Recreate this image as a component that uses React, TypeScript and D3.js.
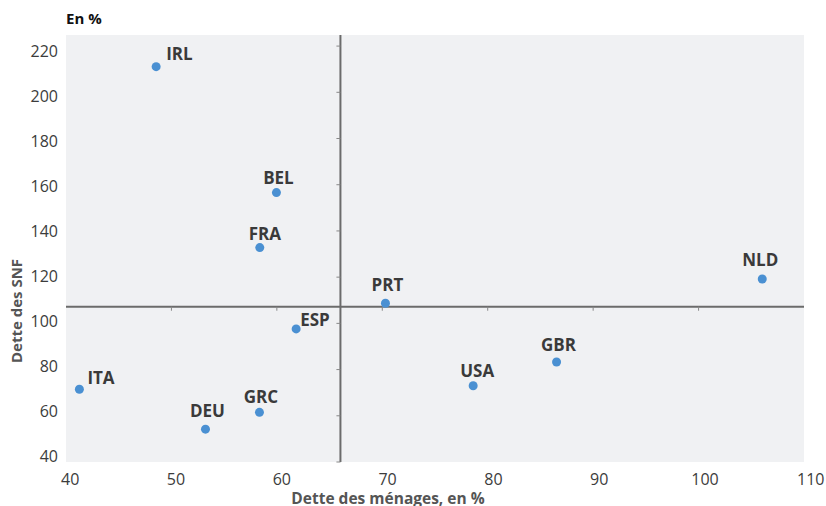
import React from "react";
import * as d3 from "d3";

const countries = ["IRL", "BEL", "FRA", "PRT", "ESP", "NLD", "ITA", "DEU", "GRC", "USA", "GBR"];
const householdDebt = [48.55, 59.96, 58.38, 70.3, 61.83, 106.04, 41.27, 53.23, 58.35, 78.62, 86.53];
const corporateDebt = [211.1, 156.6, 132.8, 108.7, 97.6, 119.2, 71.5, 54.2, 61.5, 73.0, 83.3];
const xTicks = [40, 50, 60, 70, 80, 90, 100, 110];
const yTicks = [40, 60, 80, 100, 120, 140, 160, 180, 200, 220];
const meanX = 66.03;
const meanY = 107.2;

// label placement relative to the dot (layout only)
const labelPlacement: { dx: number; dy: number; anchor: string }[] = [
  { dx: 10, dy: -7, anchor: "start" },
  { dx: 2, dy: -9, anchor: "middle" },
  { dx: 5, dy: -8, anchor: "middle" },
  { dx: 2, dy: -12, anchor: "middle" },
  { dx: 4, dy: -3, anchor: "start" },
  { dx: -2, dy: -13, anchor: "middle" },
  { dx: 8, dy: -5, anchor: "start" },
  { dx: 2, dy: -12.5, anchor: "middle" },
  { dx: 1.5, dy: -9.5, anchor: "middle" },
  { dx: 4, dy: -9, anchor: "middle" },
  { dx: 2, dy: -11, anchor: "middle" },
];

const W = 826;
const H = 506;
const left = 66;
const right = 804;
const top = 35;
const bottom = 462;

export default function App() {
  const x = d3.scaleLinear().domain([40, 110]).range([left, right]);
  const y = d3.scaleLinear().domain([40, 224.8]).range([bottom, top]);
  // tick label positions (slightly offset from tick marks as in the source)
  const xl = d3.scaleLinear().domain([40, 110]).range([70.2, 810.8]);
  const yl = d3.scaleLinear().domain([40, 220]).range([456, 51]);
  const font = "'Open Sans', 'DejaVu Sans', sans-serif";
  const lineColor = "#6b6b6b";

  return (
    <svg
      width={W}
      height={H}
      style={{ position: "absolute", left: 0, top: 0, background: "#fff" }}
      fontFamily={font}
    >
      <rect x={left} y={top} width={right - left} height={bottom - top} fill="#f0f1f3" />
      <text x={66} y={24} fontSize={15} fontWeight="bold" fill="#111">En %</text>

      {yTicks.map((t) => (
        <text key={"yl" + t} x={58} y={yl(t)} dy="0.35em" textAnchor="end" fontSize={16} fill="#3c3c3c">
          {t}
        </text>
      ))}
      {xTicks.map((t) => (
        <text key={"xl" + t} x={xl(t)} y={485} textAnchor="middle" fontSize={16} fill="#3c3c3c">
          {t}
        </text>
      ))}

      {/* quadrant lines */}
      <line x1={left} x2={right} y1={y(meanY)} y2={y(meanY)} stroke={lineColor} strokeWidth={2} />
      <line x1={x(meanX)} x2={x(meanX)} y1={top} y2={bottom} stroke={lineColor} strokeWidth={2} />
      {yTicks.map((t) => (
        <line key={"yt" + t} x1={x(meanX) - 4} x2={x(meanX)} y1={y(t)} y2={y(t)} stroke="#888" strokeWidth={1} />
      ))}
      {xTicks.slice(1, -1).map((t) => (
        <line key={"xt" + t} x1={x(t)} x2={x(t)} y1={y(meanY)} y2={y(meanY) + 4} stroke="#888" strokeWidth={1} />
      ))}

      {countries.map((c, i) => {
        const cx = x(householdDebt[i]);
        const cy = y(corporateDebt[i]);
        const p = labelPlacement[i];
        return (
          <g key={c}>
            <circle cx={cx} cy={cy} r={4.5} fill="#4a90d2" />
            <text x={cx + p.dx} y={cy + p.dy} textAnchor={p.anchor} fontSize={17} fontWeight="bold" fill="#3a3a3a">
              {c}
            </text>
          </g>
        );
      })}

      <text x={388} y={504} textAnchor="middle" fontSize={15.5} fontWeight="bold" fill="#555">
        Dette des ménages, en %
      </text>
      <text
        transform={`translate(22,311) rotate(-90)`}
        textAnchor="middle"
        fontSize={15}
        fontWeight="bold"
        fill="#555"
      >
        Dette des SNF
      </text>
    </svg>
  );
}
